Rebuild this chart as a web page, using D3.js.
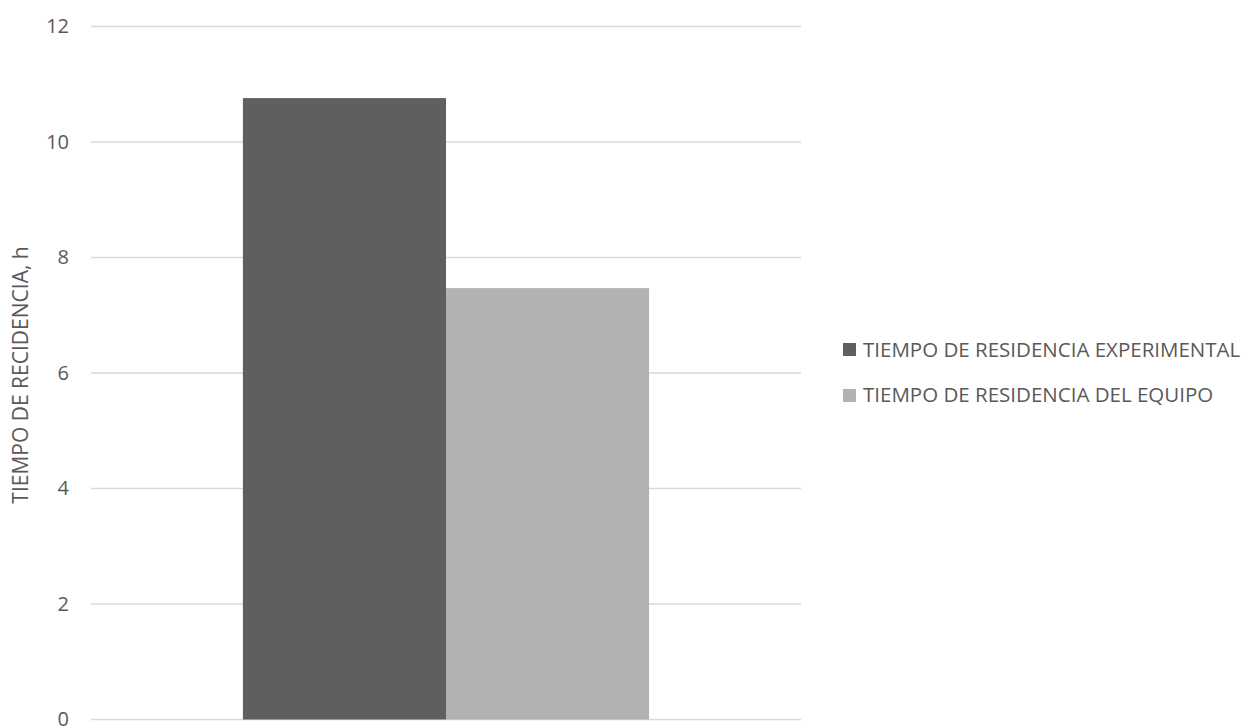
<!DOCTYPE html>
<html>
<head>
<meta charset="utf-8">
<script src="https://cdn.jsdelivr.net/npm/d3@7"></script>
<style>
  body { margin: 0; background: #fff; }
  text { font-family: "Open Sans", "Noto Sans", sans-serif; fill: #595959; }
</style>
</head>
<body>
<svg id="chart" width="1253" height="727"></svg>
<script>
var categories = [""];
var seriesNames = ["TIEMPO DE RESIDENCIA EXPERIMENTAL", "TIEMPO DE RESIDENCIA DEL EQUIPO"];
var seriesValues = [[10.76], [7.47]];
var seriesColors = ["#5f5f5f", "#b2b2b2"];
var yTicks = [0, 2, 4, 6, 8, 10, 12];
var yTitle = "TIEMPO DE RECIDENCIA, h";

var svg = d3.select("#chart"),
    margin = {left: 91, right: 452, top: 26.5, bottom: 7.5},
    width = +svg.attr("width"),
    height = +svg.attr("height");

var y = d3.scaleLinear()
    .domain([0, 12])
    .range([height - margin.bottom, margin.top]);

var x0 = d3.scaleBand()
    .domain(categories)
    .range([margin.left, width - margin.right])
    .paddingInner(0)
    .paddingOuter(0.374);

var x1 = d3.scaleBand()
    .domain(seriesNames)
    .range([0, x0.bandwidth()])
    .padding(0);

// gridlines
svg.append("g")
    .selectAll("line")
    .data(yTicks)
    .enter().append("line")
    .attr("x1", margin.left)
    .attr("x2", width - margin.right)
    .attr("y1", function(d) { return y(d); })
    .attr("y2", function(d) { return y(d); })
    .style("stroke", "#d9d9d9")
    .style("stroke-width", 1.3);

// y axis labels
var yAxis = svg.append("g")
    .attr("transform", "translate(" + (margin.left - 22) + ",0)")
    .call(d3.axisLeft(y).tickValues(yTicks).tickSize(0).tickPadding(0));
yAxis.select(".domain").remove();
yAxis.selectAll("text")
    .style("font-size", "20px")
    .style("fill", "#595959")
    .style("font-family", "'Open Sans', sans-serif");

// bars
var groups = svg.append("g")
    .selectAll("g")
    .data(categories)
    .enter().append("g")
    .attr("transform", function(d) { return "translate(" + x0(d) + ",0)"; });

groups.selectAll("rect")
    .data(function(d, ci) {
        return seriesNames.map(function(s, si) {
            return {name: s, value: seriesValues[si][ci], color: seriesColors[si]};
        });
    })
    .enter().append("rect")
    .attr("x", function(d) { return x1(d.name); })
    .attr("y", function(d) { return y(d.value); })
    .attr("width", x1.bandwidth())
    .attr("height", function(d) { return y(0) - y(d.value); })
    .style("fill", function(d) { return d.color; });

// y title
svg.append("text")
    .attr("transform", "translate(28," + 375 + ") rotate(-90)")
    .attr("text-anchor", "middle")
    .style("font-size", "21px")
    .text(yTitle);

// legend
var legend = svg.append("g").attr("class", "legend");
legend.selectAll("g").data(seriesNames)
    .enter()
    .append("g")
    .each(function(d, i) {
        var g = d3.select(this);
        g.append("rect")
            .attr("x", 843)
            .attr("y", 343 + i * 46)
            .attr("width", 13)
            .attr("height", 13)
            .style("fill", seriesColors[i]);
        g.append("text")
            .attr("x", 863)
            .attr("y", 357 + i * 45)
            .style("font-size", "20.5px")
            .text(d);
    });
</script>
</body>
</html>
